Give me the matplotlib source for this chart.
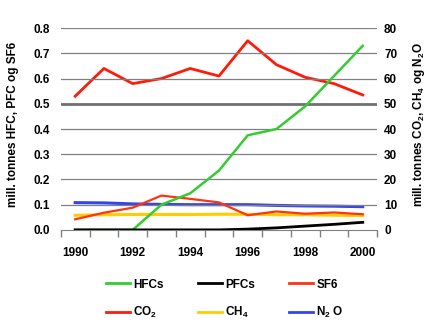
import numpy as np
import matplotlib.pyplot as plt
from matplotlib.lines import Line2D

plt.rcParams['font.family'] = ['Liberation Sans', 'DejaVu Sans']
plt.rcParams['font.weight'] = 'bold'
plt.rcParams['mathtext.default'] = 'bf'
plt.rcParams['mathtext.fontset'] = 'custom'
plt.rcParams['mathtext.bf'] = 'Liberation Sans:bold'

years = np.arange(1990, 2001)
# left axis (mill. tonnes HFC, PFC, SF6)
hfcs = [0.0, 0.0, 0.0, 0.10, 0.145, 0.235, 0.375, 0.40, 0.49, 0.61, 0.73]
pfcs = [0.0, 0.0, 0.0, 0.0, 0.0, 0.0, 0.003, 0.008, 0.015, 0.022, 0.03]
sf6 = [0.042, 0.068, 0.088, 0.136, 0.123, 0.109, 0.058, 0.073, 0.064, 0.069, 0.062]
# right axis (mill. tonnes CO2, CH4, N2O)
co2 = [53, 64, 58, 60, 64, 61, 75, 65.5, 60.5, 58, 53.5]
ch4 = [5.8, 6.0, 6.1, 6.1, 6.1, 6.2, 6.2, 6.0, 6.0, 5.8, 5.7]
n2o = [10.8, 10.7, 10.3, 10.1, 10.0, 10.0, 10.0, 9.7, 9.5, 9.4, 9.2]

c_hfc = '#33cc33'
c_pfc = '#000000'
c_sf6 = '#ff3311'
c_co2 = '#ff1a0a'
c_ch4 = '#ffcc00'
c_n2o = '#3344ee'

fig = plt.figure(figsize=(4.31, 3.27), dpi=100)
ax = fig.add_axes([0.141, 0.297, 0.734, 0.617])
ax2 = ax.twinx()

ax.set_ylim(0, 0.8)
ax2.set_ylim(0, 80)
ax.set_xlim(1989.5, 2000.5)

for v in np.arange(0.1, 0.81, 0.1):
    if abs(v - 0.5) < 1e-6:
        ax.axhline(v, color='#707070', lw=2.0, zorder=0)
    else:
        ax.axhline(v, color='#808080', lw=0.9, zorder=0)

ax2.plot(years, ch4, color=c_ch4, lw=2.2, zorder=2)
ax2.plot(years, n2o, color=c_n2o, lw=2.2, zorder=3)
ax2.plot(years, co2, color=c_co2, lw=2.0, zorder=3)
ax.plot(years, sf6, color=c_sf6, lw=1.6, zorder=4)
ax.plot(years, hfcs, color=c_hfc, lw=1.8, zorder=4)
ax.plot(years, pfcs, color=c_pfc, lw=2.0, zorder=5)

ax.set_zorder(2)
ax.patch.set_visible(False)
ax2.set_zorder(1)

for a in (ax, ax2):
    for s in ('top', 'left', 'right'):
        a.spines[s].set_visible(False)
ax2.spines['bottom'].set_visible(False)
ax.spines['bottom'].set_color('#808080')

ax.set_xticks(years[::2])
ax.set_xticklabels([str(y) for y in years[::2]])
ax.set_xticks(np.arange(1989.5, 2001, 1.0), minor=True)
ax.tick_params(axis='x', which='major', length=0, pad=12, labelsize=8.5)
ax.tick_params(axis='x', which='minor', length=5, color='#808080', width=1)

ax.set_yticks(np.arange(0, 0.81, 0.1))
ax.set_yticklabels([f'{v:.1f}' for v in np.arange(0, 0.81, 0.1)])
ax.tick_params(axis='y', length=0, pad=8, labelsize=8.5)
ax2.set_yticks(np.arange(0, 81, 10))
ax2.tick_params(axis='y', length=0, pad=5, labelsize=8.5)

fig.text(0.031, 0.62, 'mill. tonnes HFC, PFC og SF6', rotation=90,
         ha='center', va='center', fontsize=8.5, fontweight='bold')
fig.text(0.972, 0.62, 'mill. tonnes CO$_2$, CH$_4$ og N$_2$O', rotation=90,
         ha='center', va='center', fontsize=8.5, fontweight='bold')

handles = [
    Line2D([], [], color=c_hfc, lw=2),
    Line2D([], [], color=c_co2, lw=2),
    Line2D([], [], color=c_pfc, lw=2),
    Line2D([], [], color=c_ch4, lw=2),
    Line2D([], [], color=c_sf6, lw=2),
    Line2D([], [], color=c_n2o, lw=2),
]
labels = ['HFCs', 'CO$_2$', 'PFCs', 'CH$_4$', 'SF6', 'N$_2$ O']
fig.legend(handles, labels, ncol=3, loc='center', bbox_to_anchor=(0.522, 0.085),
           frameon=False, fontsize=8.5, handlelength=2.0, handletextpad=0.3,
           columnspacing=2.9, labelspacing=1.2)

fig.savefig('out.png', dpi=100)
